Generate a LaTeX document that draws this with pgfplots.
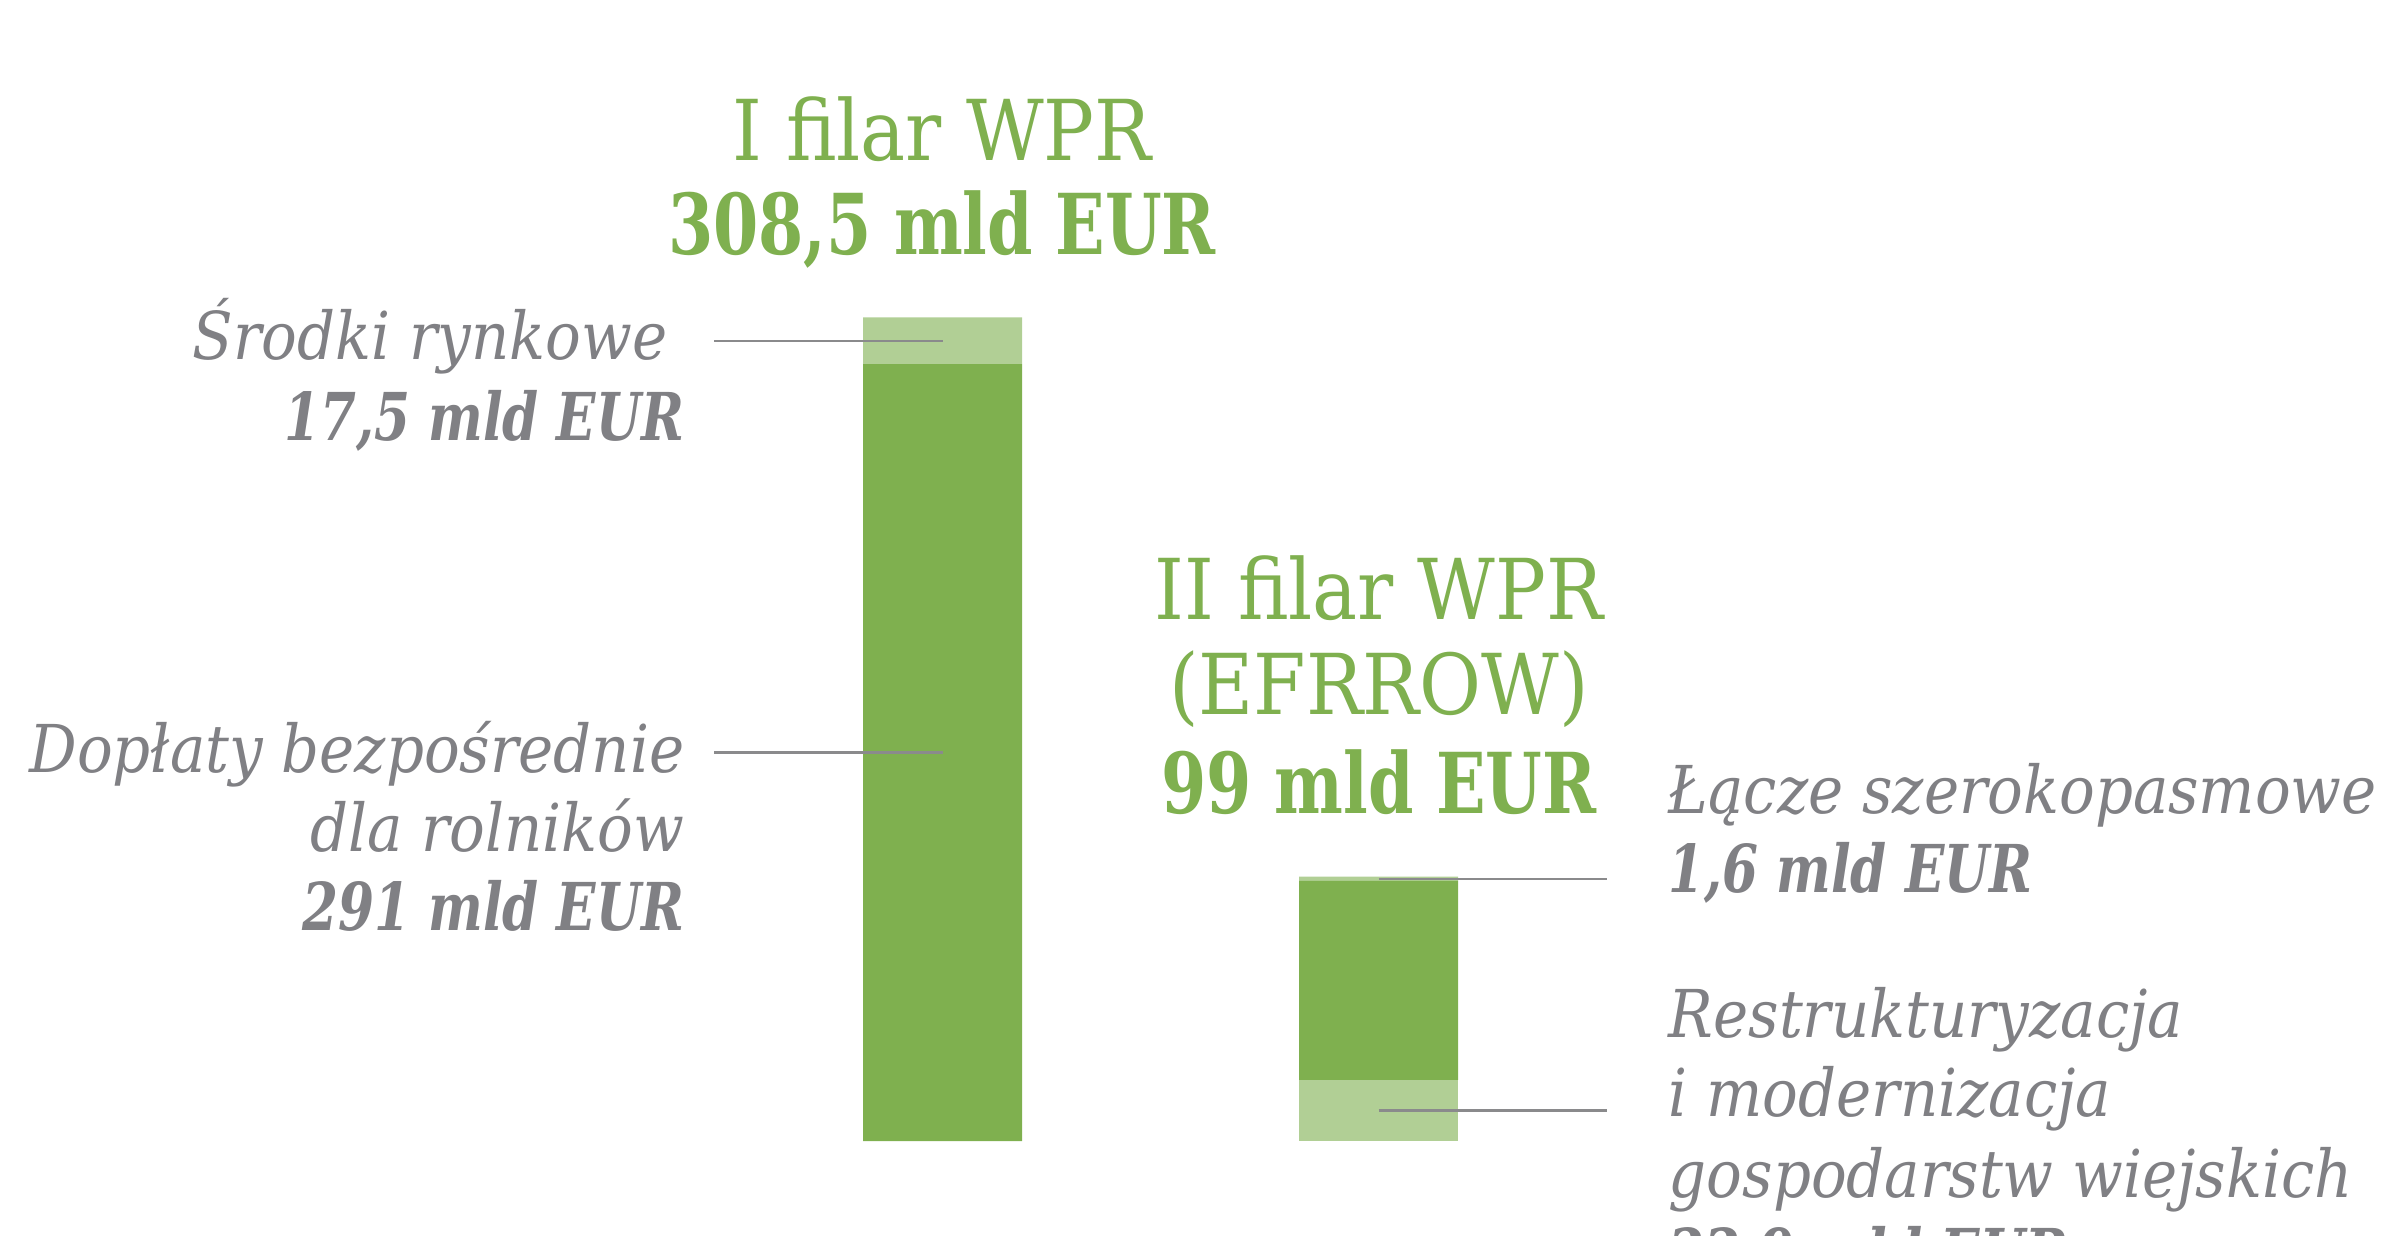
\documentclass[border=0pt]{standalone}
\usepackage{pgfplots}
\pgfplotsset{compat=1.18}
\usepackage{fontspec}
\setmainfont{DejaVu Serif Condensed}[BoldFeatures={FakeStretch=0.86}, BoldItalicFeatures={FakeStretch=0.87}]
\definecolor{dgreen}{HTML}{7FB04F}
\definecolor{lgreen}{HTML}{B1CF95}
\definecolor{tgray}{HTML}{808084}
\definecolor{lgray}{HTML}{8A8A8C}
\newcommand{\ttl}{\fontsize{21}{25}\selectfont}
\newcommand{\lab}{\fontsize{16.5}{19.75}\selectfont\itshape}
\begin{document}
\begin{tikzpicture}[x=0.25pt,y=0.25pt]
\path[use as bounding box] (0,0) rectangle (2382,1235);
\begin{scope}
\clip (0,0) rectangle (2382,1235);
\begin{axis}[at={(0pt,23.5pt)}, anchor=south west, width=595.5pt, height=285.25pt,
  scale only axis, hide axis, xmin=-2.1617, xmax=3.3016, ymin=0, ymax=427.4,
  ybar stacked, bar width=0.3647, clip=false]
\addplot[fill=lgreen, draw=none] coordinates {(0,0) (1,22.9)};
\addplot[fill=dgreen, draw=none] coordinates {(0,291) (1,74.5)};
\addplot[fill=lgreen, draw=none] coordinates {(0,17.5) (1,1.6)};
\coordinate (a1) at (axis cs:0,299.75);
\coordinate (a2) at (axis cs:-0.524,299.75);
\coordinate (b1) at (axis cs:0,145.5);
\coordinate (b2) at (axis cs:-0.524,145.5);
\coordinate (c1) at (axis cs:1,98.2);
\coordinate (c2) at (axis cs:1.524,98.2);
\coordinate (d1) at (axis cs:1,11.45);
\coordinate (d2) at (axis cs:1.524,11.45);
\end{axis}
\draw[lgray, line width=0.6pt] (a1) -- (a2);
\draw[lgray, line width=0.6pt] (b1) -- (b2);
\draw[lgray, line width=0.6pt] (c1) -- (c2);
\draw[lgray, line width=0.6pt] (d1) -- (d2);
\node[anchor=base, text=dgreen, inner sep=0] at (942,1075) {\ttl I filar WPR};
\node[anchor=base, text=dgreen, inner sep=0] at (942,980) {\ttl\bfseries 308,5 mld EUR};
\node[anchor=base east, text=tgray, inner sep=0] at (668,875) {\lab Środki rynkowe};
\node[anchor=base east, text=tgray, inner sep=0] at (685,795) {\lab\bfseries 17,5 mld EUR};
\node[anchor=base east, text=tgray, inner sep=0] at (685,463) {\lab Dopłaty bezpośrednie};
\node[anchor=base east, text=tgray, inner sep=0] at (685,384) {\lab dla rolników};
\node[anchor=base east, text=tgray, inner sep=0] at (685,305) {\lab\bfseries 291 mld EUR};
\node[anchor=base, text=dgreen, inner sep=0] at (1379,615) {\ttl II filar WPR};
\node[anchor=base, text=dgreen, inner sep=0] at (1379,521) {\ttl (EFRROW)};
\node[anchor=base, text=dgreen, inner sep=0] at (1379,422) {\ttl\bfseries 99 mld EUR};
\node[anchor=base west, text=tgray, inner sep=0] at (1668,422) {\lab Łącze szerokopasmowe};
\node[anchor=base west, text=tgray, inner sep=0] at (1668,343) {\lab\bfseries 1,6 mld EUR};
\node[anchor=base west, text=tgray, inner sep=0] at (1668,198) {\lab Restrukturyzacja};
\node[anchor=base west, text=tgray, inner sep=0] at (1668,119) {\lab i modernizacja};
\node[anchor=base west, text=tgray, inner sep=0] at (1668,38) {\lab gospodarstw wiejskich};
\node[anchor=base west, text=tgray, inner sep=0] at (1668,-41) {\lab\bfseries 22,9 mld EUR};
\end{scope}
\end{tikzpicture}
\end{document}
